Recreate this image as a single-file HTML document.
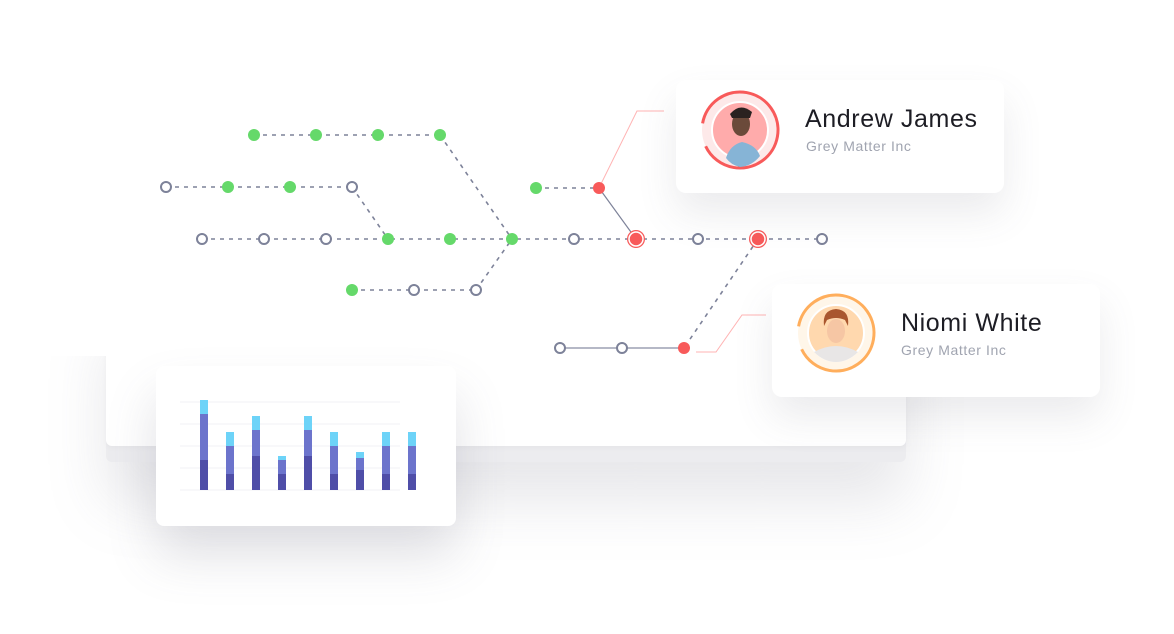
<!DOCTYPE html>
<html><head><meta charset="utf-8"><style>
html,body{margin:0;padding:0;background:#fff;}
body{width:1174px;height:634px;position:relative;overflow:hidden;font-family:"Liberation Sans",sans-serif;}
.card{position:absolute;background:#fff;border-radius:10px;}
.name{position:absolute;font-size:25px;color:#1d1d24;letter-spacing:0.6px;}
.sub{position:absolute;font-size:14px;color:#a0a4b0;letter-spacing:0.6px;}
</style></head><body>
<div style="position:absolute;left:106px;top:300px;width:800px;height:162px;background:#ececef;border-radius:6px;box-shadow:0 40px 60px rgba(120,120,140,0.18);"></div>
<div style="position:absolute;left:106px;top:290px;width:800px;height:156px;background:#fff;border-radius:6px;box-shadow:0 2px 6px rgba(0,0,0,0.03);"></div>
<div style="position:absolute;left:0;top:0;width:1174px;height:356px;background:#fff;"></div>

<svg width="1174" height="634" style="position:absolute;left:0;top:0">
<g stroke="#7d8299" stroke-width="1.6" stroke-dasharray="4,5" fill="none">
<line x1="254" y1="135" x2="440" y2="135"/>
<line x1="166" y1="187" x2="352" y2="187"/>
<line x1="536" y1="188" x2="599" y2="188"/>
<line x1="202" y1="239" x2="822" y2="239"/>
<line x1="352" y1="290" x2="476" y2="290"/>
<line x1="440" y1="135" x2="512" y2="239"/>
<line x1="352" y1="187" x2="388" y2="239"/>
<line x1="476" y1="290" x2="512" y2="239"/>
<line x1="758" y1="239" x2="684" y2="348"/>
</g>
<line x1="599" y1="188" x2="636" y2="239" stroke="#7d8299" stroke-width="1.2"/>
<line x1="560" y1="348" x2="684" y2="348" stroke="#b5b8c6" stroke-width="2"/>
<polyline points="599,188 637,111 664,111" stroke="#ffb3b3" stroke-width="1" fill="none"/>
<polyline points="696,352 716,352 742,315 766,315" stroke="#ffb3b3" stroke-width="1" fill="none"/>
<g fill="#65d96a">
<circle cx="254" cy="135" r="6"/><circle cx="316" cy="135" r="6"/><circle cx="378" cy="135" r="6"/><circle cx="440" cy="135" r="6"/>
<circle cx="228" cy="187" r="6"/><circle cx="290" cy="187" r="6"/><circle cx="536" cy="188" r="6"/>
<circle cx="388" cy="239" r="6"/><circle cx="450" cy="239" r="6"/><circle cx="512" cy="239" r="6"/>
<circle cx="352" cy="290" r="6"/>
</g>
<g fill="#fff" stroke="#7d8299" stroke-width="2">
<circle cx="166" cy="187" r="5"/><circle cx="352" cy="187" r="5"/>
<circle cx="202" cy="239" r="5"/><circle cx="264" cy="239" r="5"/><circle cx="326" cy="239" r="5"/>
<circle cx="574" cy="239" r="5"/><circle cx="698" cy="239" r="5"/><circle cx="822" cy="239" r="5"/>
<circle cx="414" cy="290" r="5"/><circle cx="476" cy="290" r="5"/>
<circle cx="560" cy="348" r="5"/><circle cx="622" cy="348" r="5"/>
</g>
<g fill="#f85a5a">
<circle cx="599" cy="188" r="6"/><circle cx="684" cy="348" r="6"/>
<circle cx="636" cy="239" r="9"/><circle cx="758" cy="239" r="9"/>
</g>
<circle cx="636" cy="239" r="7" fill="none" stroke="#fff" stroke-width="1.5"/>
<circle cx="758" cy="239" r="7" fill="none" stroke="#fff" stroke-width="1.5"/>
</svg>

<div class="card" style="left:676px;top:80px;width:328px;height:113px;box-shadow:0 20px 40px rgba(90,90,110,0.12);"></div>
<div class="card" style="left:772px;top:284px;width:328px;height:113px;box-shadow:0 20px 40px rgba(90,90,110,0.12);"></div>

<svg width="1174" height="634" style="position:absolute;left:0;top:0">
<circle cx="740" cy="130" r="38" fill="#fde9e9" stroke="#f85a5a" stroke-width="3" stroke-dasharray="215,24" transform="rotate(190 740 130)"/>
<circle cx="740" cy="130" r="28" fill="#ffabab" stroke="#fff" stroke-width="2"/>
<path d="M726,158 Q730,145 742,142 Q756,145 760,156 Q752,166 740,167 Q731,165 726,158Z" fill="#86b4d6"/>
<ellipse cx="741" cy="124" rx="9" ry="12" fill="#6b4a3a"/>
<path d="M730,114 Q740,102 752,112 L750,118 L732,118Z" fill="#2a2220"/>
<circle cx="836" cy="333" r="38" fill="#fff6e9" stroke="#ffae5c" stroke-width="3" stroke-dasharray="215,24" transform="rotate(190 836 333)"/>
<circle cx="836" cy="333" r="28" fill="#ffd8ae" stroke="#fff" stroke-width="2"/>
<path d="M814,352 Q836,340 858,352 Q848,362 836,362 Q824,362 814,352Z" fill="#e8e6e6"/>
<ellipse cx="836" cy="331" rx="9" ry="12" fill="#f6c6a4"/>
<path d="M824,326 Q822,310 836,309 Q850,310 848,326 L845,320 Q836,316 827,320Z" fill="#a9562e"/>
</svg>
<div class="name" style="left:805px;top:105px;">Andrew James</div>
<div class="sub" style="left:806px;top:138px;">Grey Matter Inc</div>
<div class="name" style="left:901px;top:309px;">Niomi White</div>
<div class="sub" style="left:901px;top:342px;">Grey Matter Inc</div>

<div class="card" style="left:156px;top:366px;width:300px;height:160px;border-radius:8px;box-shadow:0 30px 50px rgba(90,90,110,0.18);"></div>
<svg width="1174" height="634" style="position:absolute;left:0;top:0">
<g stroke="#f1f2f6" stroke-width="1">
<line x1="180" y1="402" x2="400" y2="402"/><line x1="180" y1="424" x2="400" y2="424"/>
<line x1="180" y1="446" x2="400" y2="446"/><line x1="180" y1="468" x2="400" y2="468"/>
<line x1="180" y1="490" x2="400" y2="490"/>
</g>
<g>
<rect x="200" y="400" width="8" height="14" fill="#6dd3f8"/><rect x="200" y="414" width="8" height="46" fill="#6c74cc"/><rect x="200" y="460" width="8" height="30" fill="#4f4ea8"/>
<rect x="226" y="432" width="8" height="14" fill="#6dd3f8"/><rect x="226" y="446" width="8" height="28" fill="#6c74cc"/><rect x="226" y="474" width="8" height="16" fill="#4f4ea8"/>
<rect x="252" y="416" width="8" height="14" fill="#6dd3f8"/><rect x="252" y="430" width="8" height="26" fill="#6c74cc"/><rect x="252" y="456" width="8" height="34" fill="#4f4ea8"/>
<rect x="278" y="456" width="8" height="4" fill="#6dd3f8"/><rect x="278" y="460" width="8" height="14" fill="#6c74cc"/><rect x="278" y="474" width="8" height="16" fill="#4f4ea8"/>
<rect x="304" y="416" width="8" height="14" fill="#6dd3f8"/><rect x="304" y="430" width="8" height="26" fill="#6c74cc"/><rect x="304" y="456" width="8" height="34" fill="#4f4ea8"/>
<rect x="330" y="432" width="8" height="14" fill="#6dd3f8"/><rect x="330" y="446" width="8" height="28" fill="#6c74cc"/><rect x="330" y="474" width="8" height="16" fill="#4f4ea8"/>
<rect x="356" y="452" width="8" height="6" fill="#6dd3f8"/><rect x="356" y="458" width="8" height="12" fill="#6c74cc"/><rect x="356" y="470" width="8" height="20" fill="#4f4ea8"/>
<rect x="382" y="432" width="8" height="14" fill="#6dd3f8"/><rect x="382" y="446" width="8" height="28" fill="#6c74cc"/><rect x="382" y="474" width="8" height="16" fill="#4f4ea8"/>
<rect x="408" y="432" width="8" height="14" fill="#6dd3f8"/><rect x="408" y="446" width="8" height="28" fill="#6c74cc"/><rect x="408" y="474" width="8" height="16" fill="#4f4ea8"/>
</g>
</svg>
</body></html>
